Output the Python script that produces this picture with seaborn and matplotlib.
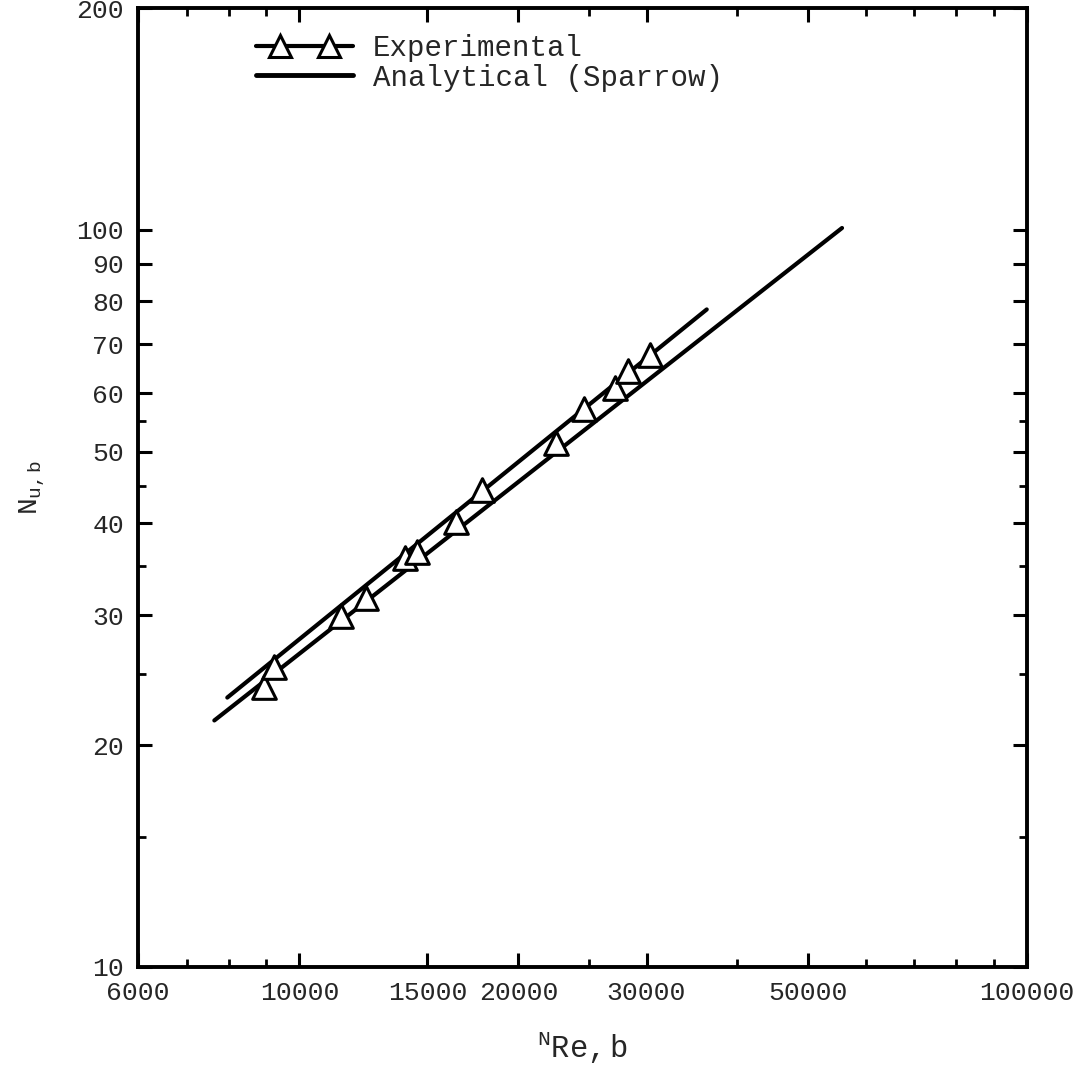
import numpy as np
import pandas as pd
import matplotlib
matplotlib.use("Agg")
import matplotlib.pyplot as plt
import seaborn as sns
from matplotlib.lines import Line2D
from matplotlib.legend_handler import HandlerLine2D, HandlerTuple
from matplotlib.ticker import FixedLocator, FixedFormatter, NullFormatter

# experimental data points (Re_b, Nu_b)
exp_re = [8950, 9240, 11420, 12360, 13950, 14530, 16440, 17800, 22500, 24590, 27130, 28270, 30300]
exp_nu = [24.0, 25.5, 29.9, 31.7, 35.9, 36.6, 40.2, 44.4, 51.4, 57.1, 61.1, 64.4, 67.7]

# fitted line through the experimental points
fit_re = [7960, 36300]
fit_nu = [23.2, 78.0]

# analytical curve (Sparrow)
ana_re = [7640, 55700]
ana_nu = [21.6, 100.6]

x_major = [6000, 10000, 15000, 20000, 30000, 50000, 100000]
x_major_labels = ["6000", "10000", "15000", "20000", "30000", "50000", "100000"]
x_minor = [7000, 8000, 9000, 25000, 40000, 60000, 70000, 80000, 90000]
y_major = [10, 20, 30, 40, 50, 60, 70, 80, 90, 100, 200]
y_major_labels = ["10", "20", "30", "40", "50", "60", "70", "80", "90", "100", "200"]
y_minor = [15, 25, 35, 45, 55]

sns.set_style("ticks")
plt.rcParams["font.family"] = ["Liberation Mono", "DejaVu Sans Mono"]
plt.rcParams["mathtext.fontset"] = "custom"
plt.rcParams["mathtext.rm"] = "Liberation Mono"
plt.rcParams["mathtext.tt"] = "Liberation Mono"
plt.rcParams["mathtext.it"] = "Liberation Mono"

fig = plt.figure(figsize=(10.89, 10.70), dpi=100)
ax = fig.add_axes([0.1267, 0.0963, 0.8163, 0.8962])

exp_df = pd.DataFrame({"Re": exp_re, "Nu": exp_nu})
fit_df = pd.DataFrame({"Re": fit_re, "Nu": fit_nu})
ana_df = pd.DataFrame({"Re": ana_re, "Nu": ana_nu})

sns.lineplot(data=ana_df, x="Re", y="Nu", color="black", linewidth=3, ax=ax, zorder=2)
sns.lineplot(data=fit_df, x="Re", y="Nu", color="black", linewidth=3, ax=ax, zorder=2)
sns.scatterplot(
    data=exp_df, x="Re", y="Nu",
    marker="^", s=290,
    facecolor="white", edgecolor="black", linewidth=2.2,
    ax=ax, zorder=3
)

ax.set_xscale("log")
ax.set_yscale("log")
ax.set_xlim(6000, 100000)
ax.set_ylim(10, 200)

ax.xaxis.set_major_locator(FixedLocator(x_major))
ax.xaxis.set_major_formatter(FixedFormatter(x_major_labels))
ax.xaxis.set_minor_locator(FixedLocator(x_minor))
ax.xaxis.set_minor_formatter(NullFormatter())
ax.yaxis.set_major_locator(FixedLocator(y_major))
ax.yaxis.set_major_formatter(FixedFormatter(y_major_labels))
ax.yaxis.set_minor_locator(FixedLocator(y_minor))
ax.yaxis.set_minor_formatter(NullFormatter())

ax.tick_params(which="both", direction="in", top=True, right=True, color="black")
ax.tick_params(which="major", length=10, width=2.2, labelsize=19, pad=10)
ax.tick_params(which="minor", length=6, width=2)

for sp in ax.spines.values():
    sp.set_linewidth(2.8)
    sp.set_color("black")

ax.set_xlabel(r"$\mathtt{^{N}Re,b}$", fontsize=22, labelpad=18)
ax.set_ylabel(r"$\mathtt{N_{u,b}}$", fontsize=20, labelpad=22)

# legend: line with two triangles set inside it
leg_line = Line2D([], [], color="black", linewidth=3)
leg_marks = Line2D([], [], linestyle="none", marker="^", markersize=16,
                   markerfacecolor="white", markeredgecolor="black", markeredgewidth=2.2)
leg_ana = Line2D([], [], color="black", linewidth=3.5)
ax.legend(
    [(leg_line, leg_marks), leg_ana], ["Experimental", "Analytical (Sparrow)"],
    handler_map={
        leg_marks: HandlerLine2D(numpoints=2, marker_pad=0.8),
        tuple: HandlerTuple(ndivide=1, pad=0),
    },
    loc="upper left", bbox_to_anchor=(0.12, 0.985),
    frameon=False, fontsize=21,
    handlelength=3.3, handletextpad=0.7, labelspacing=0.05, borderaxespad=0
)

fig.savefig("out.png", dpi=100, facecolor="white")
